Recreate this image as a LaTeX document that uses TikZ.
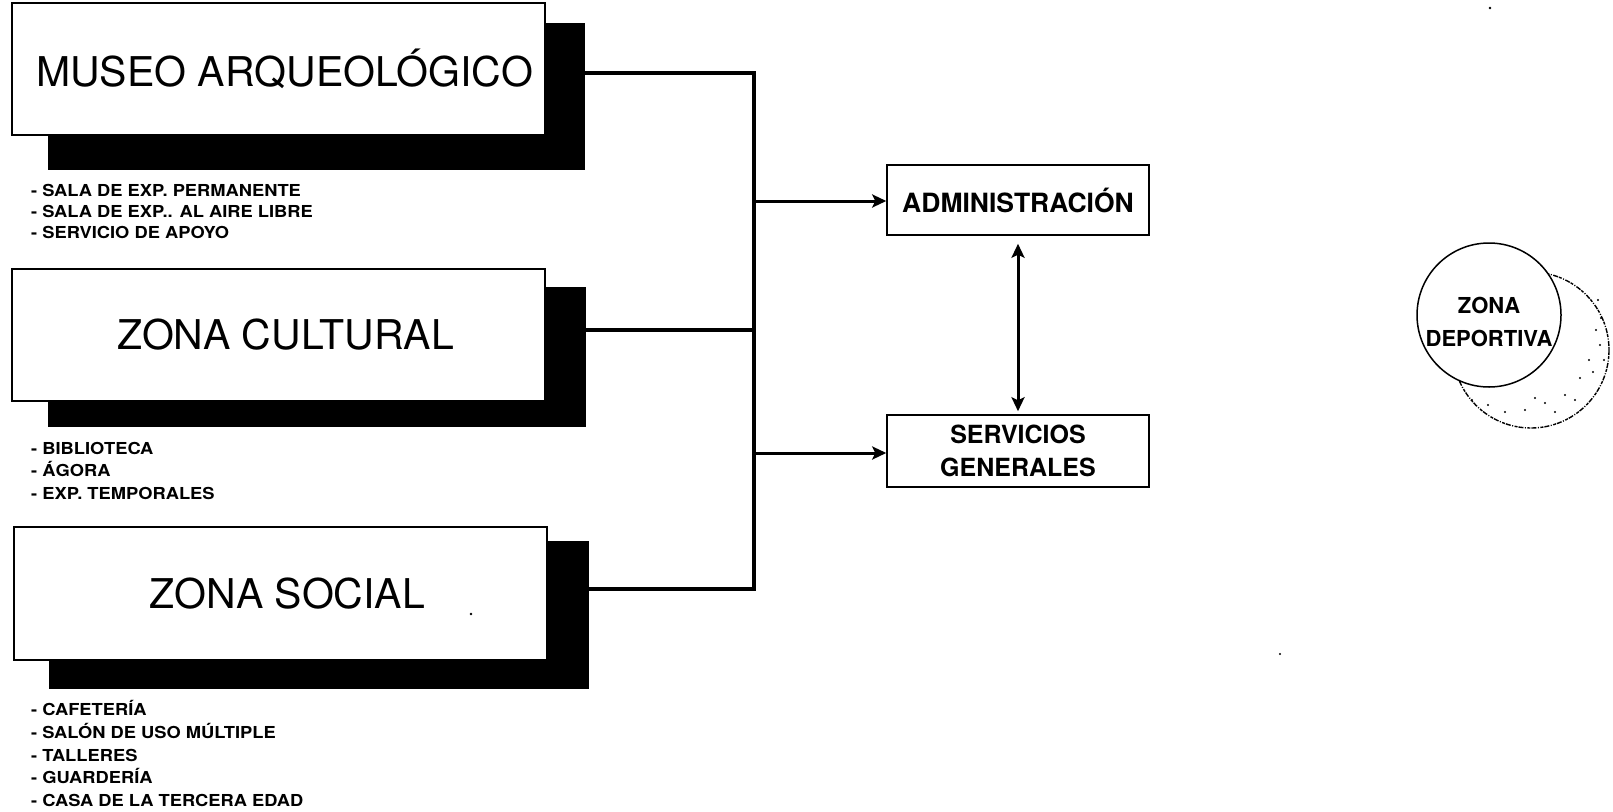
\documentclass[tikz,border=0pt]{standalone}
\usepackage{fontspec}
\setmainfont{TeX Gyre Heros}
\newfontfamily\listfont[FakeStretch=1.11]{TeX Gyre Heros}
\usetikzlibrary{arrows.meta,shapes.geometric}
\begin{document}
\begin{tikzpicture}[x=1pt,y=-1pt,
  bigbox/.style={draw=black, line width=1.8pt, fill=white, minimum width=533pt, minimum height=132pt, inner sep=0pt, font=\fontsize{41}{48}\selectfont},
  shadowbox/.style={fill=black, inner sep=0pt},
  smallbox/.style={draw=black, line width=1.5pt, fill=white, minimum width=262pt, inner sep=0pt, align=center, font=\bfseries\fontsize{25}{33}\selectfont},
  conn/.style={line width=3.2pt, line join=miter},
  arr/.style={line width=3pt, -{Stealth[length=14pt,width=13pt,inset=3pt]}},
  dblarr/.style={line width=3pt, {Stealth[length=14pt,width=13pt,inset=3pt]}-{Stealth[length=14pt,width=13pt,inset=3pt]}},
  listtext/.style={anchor=base west, inner sep=0pt, font=\listfont\bfseries\fontsize{16.5}{19}\selectfont},
  speck/.style={fill=black}
]
\useasboundingbox (0,0) rectangle (1613,811);

% shadows
\node[shadowbox, minimum width=537pt, minimum height=147pt] (museoS) at (316.5,96.5) {};
\node[shadowbox, minimum width=538pt, minimum height=140pt] (cultS) at (317,357) {};
\node[shadowbox, minimum width=540pt, minimum height=148pt] (socS) at (319,615) {};

% main boxes
\node[bigbox] (museo) at (278.5,69) {\hspace*{12pt}MUSEO ARQUEOLÓGICO};
\node[bigbox] (cult) at (278.5,335) {\hspace*{14pt}ZONA CULTURAL};
\node[bigbox, minimum height=133pt] (soc) at (280.5,593.5) {\hspace*{14pt}ZONA SOCIAL};

% right boxes
\node[smallbox, minimum height=70pt, font=\bfseries\fontsize{26.5}{32}\selectfont] (admin) at (1018,200) {ADMINISTRACIÓN};
\node[smallbox, minimum height=72pt] (serv) at (1018,451) {SERVICIOS\\GENERALES};

% junctions
\coordinate (j1) at (754,73);
\coordinate (j2) at (754,330);
\coordinate (j3) at (754,589);
\coordinate (ja) at (754,201);
\coordinate (js) at (754,453);

\draw[conn] (museoS.east |- j1) -- (j1) -- (j3) -- (socS.east |- j3);
\draw[conn] (cultS.east |- j2) -- (j2);
\draw[arr] (ja) -- (admin.west |- ja);
\draw[arr] (js) -- (serv.west |- js);
\draw[dblarr, shorten <=8pt, shorten >=3pt] (admin.south) -- (serv.north);

% zona deportiva
\node[circle, draw=black, line width=1.4pt, dash pattern=on 3pt off 1pt on 5pt off 1.5pt on 1pt off 1.5pt, minimum size=156pt, inner sep=0pt] (depS) at (1531,350) {};
\foreach \p in {(1596,330),(1600,345),(1589,360),(1580,378),(1565,395),(1545,403),(1525,410),(1505,412),(1488,405),(1601,318),(1604,360),(1575,400),(1555,412),(1593,372),(1535,398),(1472,400),(1598,300)}
  \fill[speck] \p circle (1.1pt);
\node[circle, draw=black, line width=1.5pt, fill=white, minimum size=144pt, inner sep=0pt] (dep) at (1489,315) {};
\node[align=center, inner sep=0pt, font=\bfseries\fontsize{22}{33}\selectfont] (deptext) at (1489,322) {ZONA\\DEPORTIVA};

% lists
\foreach \t [count=\i] in {SALA DE EXP. PERMANENTE, SALA DE EXP.. AL AIRE LIBRE, SERVICIO DE APOYO}
  \node[listtext] (la\i) at (31,{196+21.3*(\i-1)}) {- \t};
\foreach \t [count=\i] in {BIBLIOTECA, ÁGORA, EXP. TEMPORALES}
  \node[listtext] (lb\i) at (31,{454+22.5*(\i-1)}) {- \t};
\foreach \t [count=\i] in {CAFETERÍA, SALÓN DE USO MÚLTIPLE, TALLERES, GUARDERÍA, CASA DE LA TERCERA EDAD}
  \node[listtext] (lc\i) at (31,{715.5+22.8*(\i-1)}) {- \t};

% scan specks
\fill[speck] (1490,8) circle (1.3pt);
\fill[speck] (555,298) circle (1.3pt);
\fill[speck] (483,411) circle (1.3pt);
\fill[speck] (471,614) circle (1.3pt);
\fill[speck] (1280,654) circle (1.1pt);
\end{tikzpicture}
\end{document}
